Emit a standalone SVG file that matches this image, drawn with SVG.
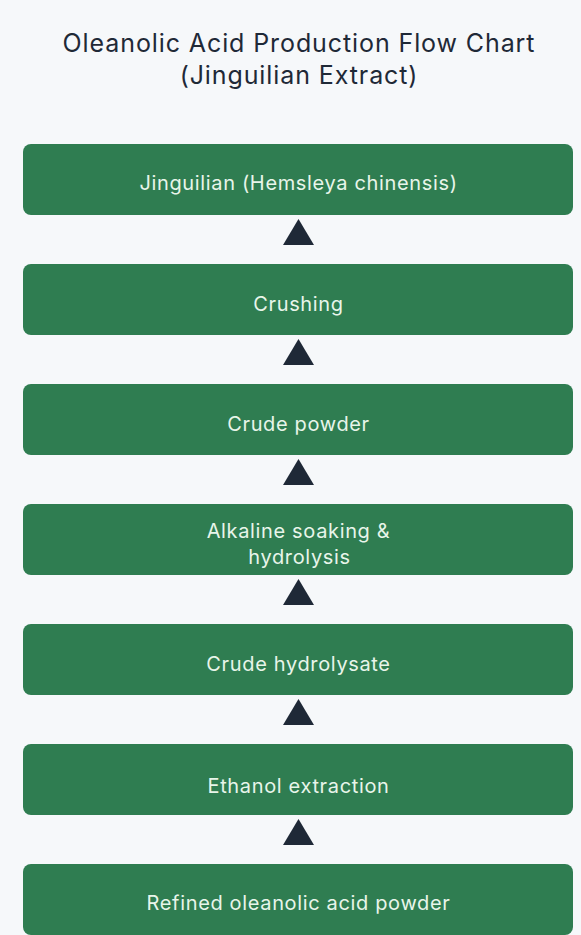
<svg xmlns="http://www.w3.org/2000/svg" width="581" height="935" viewBox="0 0 581 935">
<style>
.title{font-family:Inter,"Noto Sans","Liberation Sans",sans-serif;font-size:25px;letter-spacing:0.9px;fill:#1f2937;text-anchor:middle}
.box{fill:#2f7d51}
.lbl{font-family:Inter,"Noto Sans","Liberation Sans",sans-serif;font-size:20px;letter-spacing:0.65px;fill:#e8f5ea;text-anchor:middle}
.arr{fill:#1f2937}
</style>
<rect width="581" height="935" fill="#f6f8fa"/>
<text class="title" x="299" y="52">Oleanolic Acid Production Flow Chart</text>
<text class="title" x="299" y="84">(Jinguilian Extract)</text>
<g id="connectors">
<polygon class="arr" points="298.5,219 283,245 314,245"/>
<polygon class="arr" points="298.5,339 283,365 314,365"/>
<polygon class="arr" points="298.5,459 283,485 314,485"/>
<polygon class="arr" points="298.5,579 283,605 314,605"/>
<polygon class="arr" points="298.5,699 283,725 314,725"/>
<polygon class="arr" points="298.5,819 283,845 314,845"/>
</g>
<g id="n1"><rect class="box" x="23" y="144" width="550" height="71" rx="8"/><text class="lbl" x="298.5" y="190">Jinguilian (Hemsleya chinensis)</text></g>
<g id="n2"><rect class="box" x="23" y="264" width="550" height="71" rx="8"/><text class="lbl" x="298.5" y="310.5">Crushing</text></g>
<g id="n3"><rect class="box" x="23" y="384" width="550" height="71" rx="8"/><text class="lbl" x="298.5" y="430.5">Crude powder</text></g>
<g id="n4"><rect class="box" x="23" y="504" width="550" height="71" rx="8"/><text class="lbl" x="298.5" y="537.5">Alkaline soaking &amp;</text><text class="lbl" x="299.5" y="563.5">hydrolysis</text></g>
<g id="n5"><rect class="box" x="23" y="624" width="550" height="71" rx="8"/><text class="lbl" x="298.5" y="670.5">Crude hydrolysate</text></g>
<g id="n6"><rect class="box" x="23" y="744" width="550" height="71" rx="8"/><text class="lbl" x="298.5" y="792.5">Ethanol extraction</text></g>
<g id="n7"><rect class="box" x="23" y="864" width="550" height="71" rx="8"/><text class="lbl" x="298.5" y="910">Refined oleanolic acid powder</text></g>
</svg>
